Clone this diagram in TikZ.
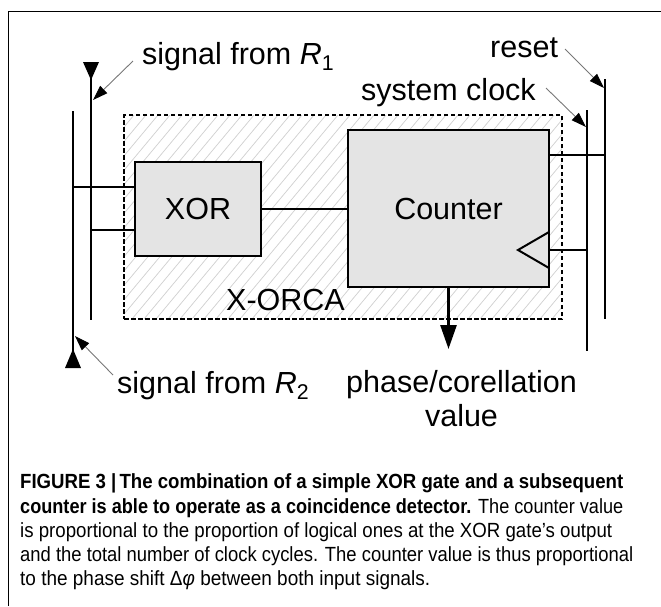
\documentclass[tikz,border=0pt]{standalone}
\usepackage{fontspec}
\usepackage{graphicx}
\setmainfont{Liberation Sans}
\usetikzlibrary{arrows.meta,calc}
\definecolor{boxfill}{HTML}{E4E4E4}
\definecolor{hatchc}{HTML}{CFCFCF}
\definecolor{ptrc}{HTML}{777777}
\begin{document}
\begin{tikzpicture}[x=1pt,y=-1pt,
  lbl/.style={inner sep=0pt,font=\fontsize{30.5}{34}\selectfont},
  captext/.style={inner sep=0pt,anchor=base west,font=\fontsize{20.5}{25}\selectfont},
  blockbox/.style={draw,line width=2.7pt,fill=boxfill,inner sep=0pt,font=\fontsize{30.5}{34}\selectfont},
  wire/.style={line width=2pt},
  busline/.style={line width=2.8pt},
  pointer/.style={draw=ptrc,line width=0.9pt,-{Triangle[color=black,length=15pt,width=10pt]}},
  hatchline/.style={draw=hatchc,line width=0.7pt},
  orcabox/.style={draw,line width=2pt,dash pattern=on 4.5pt off 2.5pt,minimum width=438pt,minimum height=204pt,inner sep=0pt}
]
\useasboundingbox (0,0) rectangle (661,606);
% outer frame
\draw[line width=1pt] (8,606) -- (8,11) -- (661,11);

% hatched X-ORCA area
\begin{scope}
  \clip (124,115) rectangle (562,319);
  \foreach \i in {-5,...,48} \draw[hatchline] (\i*12,319) -- ++(170,-204);
\end{scope}
\node[orcabox] (orca) at (343,217) {};

% blocks
\node[blockbox,minimum width=126pt,minimum height=94pt] (xor) at (198,209) {XOR};
\node[blockbox,minimum width=201pt,minimum height=157pt] (counter) at (448.5,208.5) {Counter};

% bus coordinates
\coordinate (r1top) at (91,62);
\coordinate (r1bot) at (91,320);
\coordinate (r2top) at (73,111);
\coordinate (r2bot) at (73,368);
\coordinate (clktop) at (587,110);
\coordinate (clkbot) at (587,351);
\coordinate (rsttop) at (605,79);
\coordinate (rstbot) at (605,319);

% buses
\draw[busline] (r1top) -- (r1bot);
\draw[busline] (r2top) -- (r2bot);
\draw[busline] (clktop) -- (clkbot);
\draw[busline] (rsttop) -- (rstbot);
\fill (83,62) -- (99,62) -- (91,80) -- cycle;
\fill (65,368) -- (81,368) -- (73,349) -- cycle;

% wires
\coordinate (w1) at (73,187);
\coordinate (w2) at (91,230);
\draw[wire] (w1) -- (w1 -| xor.west);
\draw[wire] (w2) -- (w2 -| xor.west);
\draw[wire] (xor.east) -- (xor.east -| counter.west);
\coordinate (wr) at (549,155);
\coordinate (wc) at (549,250);
\draw[wire] (wr) -- (wr -| rsttop);
\draw[wire] (wc) -- (wc -| clktop);
% clock input triangle
\draw[line width=2pt,line join=miter] (549,232) -- (518,250) -- (549,268);

% output
\coordinate (outend) at (448.5,349);
\draw[line width=2.7pt,-{Triangle[length=24pt,width=16pt]}] (counter.south) -- (outend);

% labels
\node[lbl,anchor=base west] (sigA) at (142,64) {signal from \textit{R}\textsubscript{1}};
\node[lbl,anchor=base west] (sigB) at (117,393) {signal from \textit{R}\textsubscript{2}};
\node[lbl,anchor=base west] (rst) at (490,57) {reset};
\node[lbl,anchor=base west] (clk) at (361,100) {system clock};
\node[lbl,anchor=base west] (orcalbl) at (226,310) {X-ORCA};
\node[lbl,anchor=base] (phase) at (461.5,392) {phase/corellation};
\node[lbl,anchor=base] (value) at (461.5,426) {value};

% pointers
\coordinate (pA) at (133,61);
\coordinate (pB) at (113,375);
\coordinate (pR) at (565,49);
\coordinate (pC) at (546,88);
\coordinate (tA) at (93,100);
\coordinate (tB) at (75,336);
\coordinate (tR) at (604,88);
\coordinate (tC) at (586,127);
\draw[pointer] (pA) -- (tA);
\draw[pointer] (pB) -- (tB);
\draw[pointer] (pR) -- (tR);
\draw[pointer] (pC) -- (tC);

% caption
\node[captext] (c1) at (20,488.5) {\resizebox{603pt}{\height}{\bfseries FIGURE 3 |\,The combination of a simple XOR gate and a subsequent}};
\node[captext] (c2) at (20,513) {\resizebox{603pt}{\height}{{\bfseries counter is able to operate as a coincidence detector.} The counter value}};
\node[captext] (c3) at (20,537) {\resizebox{592pt}{\height}{is proportional to the proportion of logical ones at the XOR gate’s output}};
\node[captext] (c4) at (20,561) {\resizebox{613pt}{\height}{and the total number of clock cycles. The counter value is thus proportional}};
\node[captext] (c5) at (20,585) {\resizebox{410pt}{\height}{to the phase shift Δ\textit{φ} between both input signals.}};
\end{tikzpicture}
\end{document}
